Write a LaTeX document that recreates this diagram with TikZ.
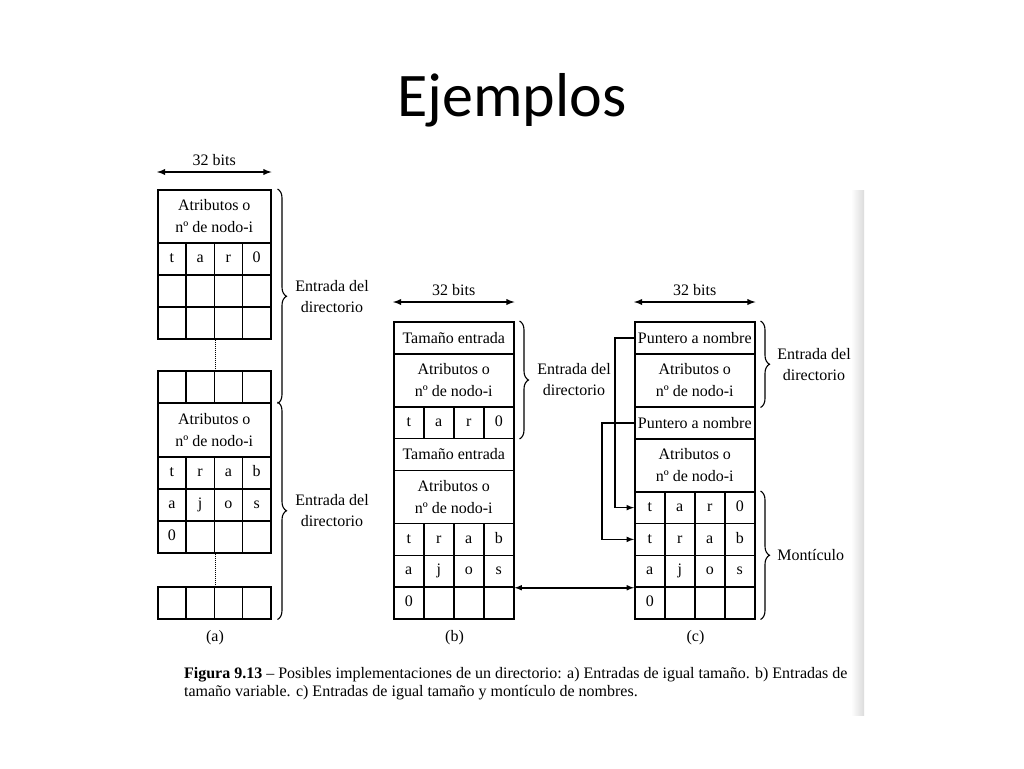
\documentclass[tikz,border=0pt]{standalone}
\usepackage{fontspec}
\setmainfont{Liberation Serif}
\newfontfamily\titlefont{Carlito}
\usepackage{tikz}
\usetikzlibrary{calc}
\usetikzlibrary{arrows}
\usetikzlibrary{decorations.pathreplacing}
\tikzset{every picture/.style={line width=1.5pt},txt/.style={font=\fontsize{16}{22}\selectfont},side/.style={font=\fontsize{16}{21}\selectfont, align=center}}

\begin{document}
\begin{tikzpicture}[x=1pt,y=-1pt,
box/.style={draw, anchor=north west, inner sep=0pt, align=center, txt},
cell/.style={draw, anchor=north west, inner sep=0pt, text height=7.5pt, text depth=0pt, txt},
br/.style={decorate, decoration={brace, amplitude=9pt}, line width=1.1pt}]
\useasboundingbox (0,0) rectangle (1024,768);
\shade[left color=white, right color=black!14] (851,190) rectangle (864,715);
\node (title) at (512,100) {\titlefont\fontsize{62}{70}\selectfont Ejemplos};
\foreach \n/\x/\y/\w/\h/\lab in {aat1/157/189/113/53/{Atributos o\\nº de nodo-i},
aat2/157/402/113/54/{Atributos o\\nº de nodo-i},
bt1/393/321/120/32/{Tamaño entrada},
bat1/393/353/120/53/{Atributos o\\nº de nodo-i},
bt2/393/437.5/120/32/{Tamaño entrada},
bat2/393/469.5/120/53.25/{Atributos o\\nº de nodo-i},
cp1/634/321/120/32/{Puntero a nombre},
cat1/634/353/120/53/{Atributos o\\nº de nodo-i},
cp2/634/406/120/32/{Puntero a nombre},
cat2/634/438/120/53/{Atributos o\\nº de nodo-i}}
\node (\n) [box, minimum width=\w pt, minimum height=\h pt] at (\x,\y) {\lab};
\foreach \n/\x/\y/\w/\h/\la/\lb/\lc/\ld in {a1/157/242/28.25/32/t/a/r/0,
a2/157/274/28.25/32/{}/{}/{}/{},
a3/157/306/28.25/32/{}/{}/{}/{},
a4/157/370/28.25/32/{}/{}/{}/{},
a5/157/456/28.25/32/t/r/a/b,
a6/157/488/28.25/32/a/j/o/s,
a7/157/520/28.25/32/0/{}/{}/{},
a8/157/586/28.25/32/{}/{}/{}/{},
b1/393/406/30/31.5/t/a/r/0,
b2/393/522.75/30/31.75/t/r/a/b,
b3/393/554.5/30/31.75/a/j/o/s,
b4/393/586.25/30/31.75/0/{}/{}/{},
c1/634/491/30/31.75/t/a/r/0,
c2/634/522.75/30/31.75/t/r/a/b,
c3/634/554.5/30/31.75/a/j/o/s,
c4/634/586.25/30/31.75/0/{}/{}/{}} {
\foreach \l [count=\i] in {\la,\lb,\lc,\ld}
\node (\n\i) [cell, minimum width=\w pt, minimum height=\h pt] at ($(\x,\y)+(\i*\w-\w,0)$) {\l};
}
\draw[densely dotted, line width=1pt] (a32.south east) -- (a42.north east);
\draw[densely dotted, line width=1pt] (a72.south east) -- (a82.north east);
\foreach \n/\m/\d in {a/aat1/17,b/bt1/19,c/cp1/19} {
\coordinate (l\n) at ($(\m.north west)+(0,-\d)$);
\coordinate (r\n) at ($(\m.north east)+(0,-\d)$);
\draw[latex-latex, line width=1.8pt] (l\n) -- (r\n) node (bits\n) [midway, above=2pt, txt] {32 bits};
}
\draw[br] ($(aat1.north east)+(6,0)$) -- ($(a44.south east)+(6,0)$) node (ea1) [midway, right=14pt, side] {Entrada del\\directorio};
\draw[br] ($(aat2.north east)+(6,0)$) -- ($(a84.south east)+(6,0)$) node (ea2) [midway, right=14pt, side] {Entrada del\\directorio};
\draw[br] ($(bt1.north east)+(5,0)$) -- ($(b14.south east)+(5,0)$) node (eb) [midway, right=14pt, side] {Entrada del\\directorio};
\draw[br] ($(cp1.north east)+(5,0)$) -- ($(cat1.south east)+(5,0)$) node (ec) [midway, right=13pt, side] {Entrada del\\directorio};
\draw[br] ($(c14.north east)+(5,0)$) -- ($(c44.south east)+(5,0)$) node (mon) [midway, right=13pt, side] {Montículo};
\draw[-latex] (cp1.west) -- +(-19,0) |- (c11.west);
\draw[-latex] (cp2.west) -- +(-32,0) |- (c21.west);
\draw[latex-latex] (b34.south east) -- (c31.south west);
\node (la) [txt] at ($(a82.south east)+(0,18)$) {(a)};
\node (lb) [txt] at ($(b42.south east)+(0,18)$) {(b)};
\node (lc) [txt] at ($(c42.south east)+(0,18)$) {(c)};
\node (cap) [anchor=west, align=left, font=\fontsize{16}{18}\selectfont] at (180,684) {\textbf{Figura 9.13} – Posibles implementaciones de un directorio: a) Entradas de igual tamaño. b) Entradas de\\tamaño variable. c) Entradas de igual tamaño y montículo de nombres.};
\end{tikzpicture}
\end{document}
